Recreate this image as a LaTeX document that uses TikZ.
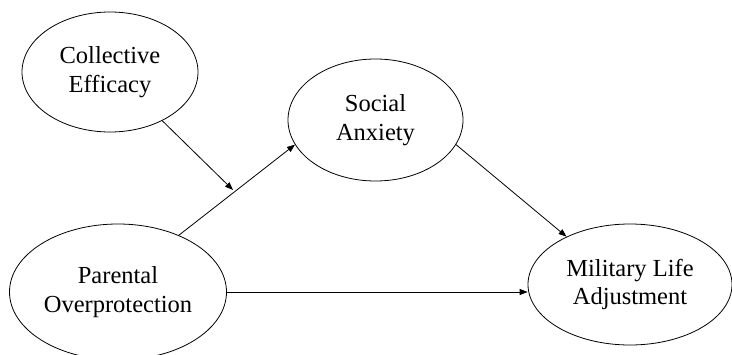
\documentclass[tikz,border=0pt]{standalone}
\usepackage{fontspec}
\setmainfont{Liberation Serif}
\usetikzlibrary{shapes.geometric,arrows.meta}

\tikzset{
  construct/.style={draw, ellipse, line width=0.8pt, inner sep=0pt, align=center,
    font=\fontsize{24.5}{28.5}\selectfont},
  effect/.style={-{Triangle[length=8pt,width=6pt]}, line width=0.8pt},
}

\begin{document}
\begin{tikzpicture}[x=1pt,y=-1pt]
  \useasboundingbox (0,0) rectangle (732,354);
  \node[construct, minimum width=176pt, minimum height=120pt] (ce) at (110,72) {Collective\\Efficacy};
  \node[construct, minimum width=175pt, minimum height=122pt] (sa) at (375.5,120) {Social\\Anxiety};
  \node[construct, minimum width=217pt, minimum height=136pt] (po) at (118,292) {Parental\\Overprotection};
  \node[construct, minimum width=204pt, minimum height=121pt] (mla) at (630,284.5) {Military Life\\Adjustment};
  \coordinate (mod) at (233,190);

  \draw[effect] (ce.-43) -- (mod);
  \draw[effect] (po.43) -- (sa.197);
  \draw[effect] (sa.-17) -- (mla.143);
  \draw[effect] (po.east) -- (mla.west |- po.east);
\end{tikzpicture}
\end{document}
